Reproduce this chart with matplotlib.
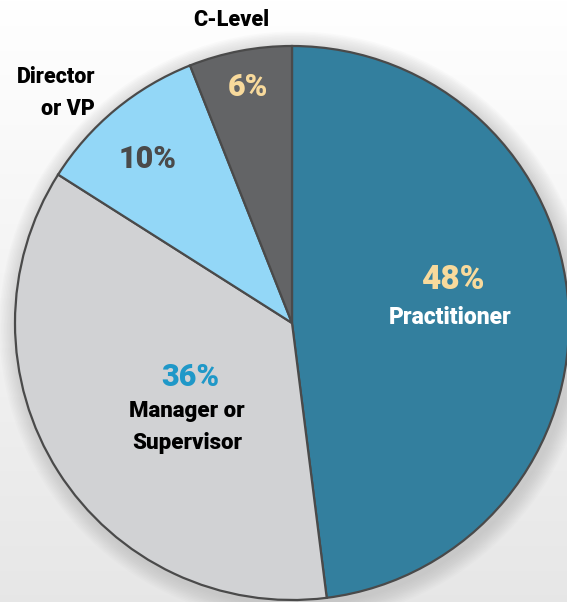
import matplotlib
matplotlib.use("Agg")
import matplotlib.pyplot as plt
import numpy as np
from matplotlib.patches import Circle

categories = ["Practitioner", "Manager or\nSupervisor", "Director\nor VP", "C-Level"]
values = [48, 36, 10, 6]
pct_labels = ["48%", "36%", "10%", "6%"]

colors = ["#337f9e", "#d1d2d4", "#93d7f7", "#636466"]
pct_colors = ["#f8da9c", "#1f98c8", "#4a4a4a", "#f8da9c"]

W, H = 567, 602
fig = plt.figure(figsize=(W / 100, H / 100), dpi=100)
ax = fig.add_axes([0, 0, 1, 1])
ax.set_xlim(0, W)
ax.set_ylim(0, H)
ax.set_aspect("equal")
ax.axis("off")

# background gradient
grad = np.linspace(1.0, 0.0, 256).reshape(-1, 1)
top = np.array([1.0, 1.0, 1.0])
bot = np.array([0.905, 0.905, 0.905])
img = bot + (top - bot) * grad[..., None]
img = np.clip(img, 0, 1)
ax.imshow(img, extent=[0, W, 0, H], aspect="auto", zorder=0)

cx, cy, r = 292, H - 323, 277

# soft shadow
for i in range(12):
    ax.add_patch(Circle((cx + 3, cy - 4), r + 2 + i * 1.5, color="#9a9a9a",
                        alpha=0.035, lw=0, zorder=1))

wedges, _ = ax.pie(values, colors=colors, startangle=90, counterclock=False,
                   center=(cx, cy), radius=r, frame=True,
                   wedgeprops=dict(edgecolor="#4a4a4a", linewidth=1.6))
for w in wedges:
    w.set_zorder(2)
ax.set_xlim(0, W)
ax.set_ylim(0, H)
ax.axis("off")

fam = ["Roboto", "Liberation Sans", "DejaVu Sans"]

def T(x, y, s, size, color, ha="center", weight="black", ls=1.6):
    ax.text(x, H - y, s, fontsize=size, color=color, ha=ha, va="center",
            fontweight=weight, family=fam, zorder=5, linespacing=ls)

# percentage labels
T(453, 280, pct_labels[0], 24, pct_colors[0])
T(190, 377, pct_labels[1], 22, pct_colors[1])
T(148, 159, pct_labels[2], 22, pct_colors[2])
T(248, 87, pct_labels[3], 22, pct_colors[3])

# category labels
T(450, 317, categories[0], 16.5, "white")
T(187, 427, categories[1], 16, "black", ls=1.55)
T(95, 93, categories[2], 15.5, "black", ha="right", ls=1.6)
T(231, 20, categories[3], 15.5, "black")

fig.savefig("out.png", dpi=100)
